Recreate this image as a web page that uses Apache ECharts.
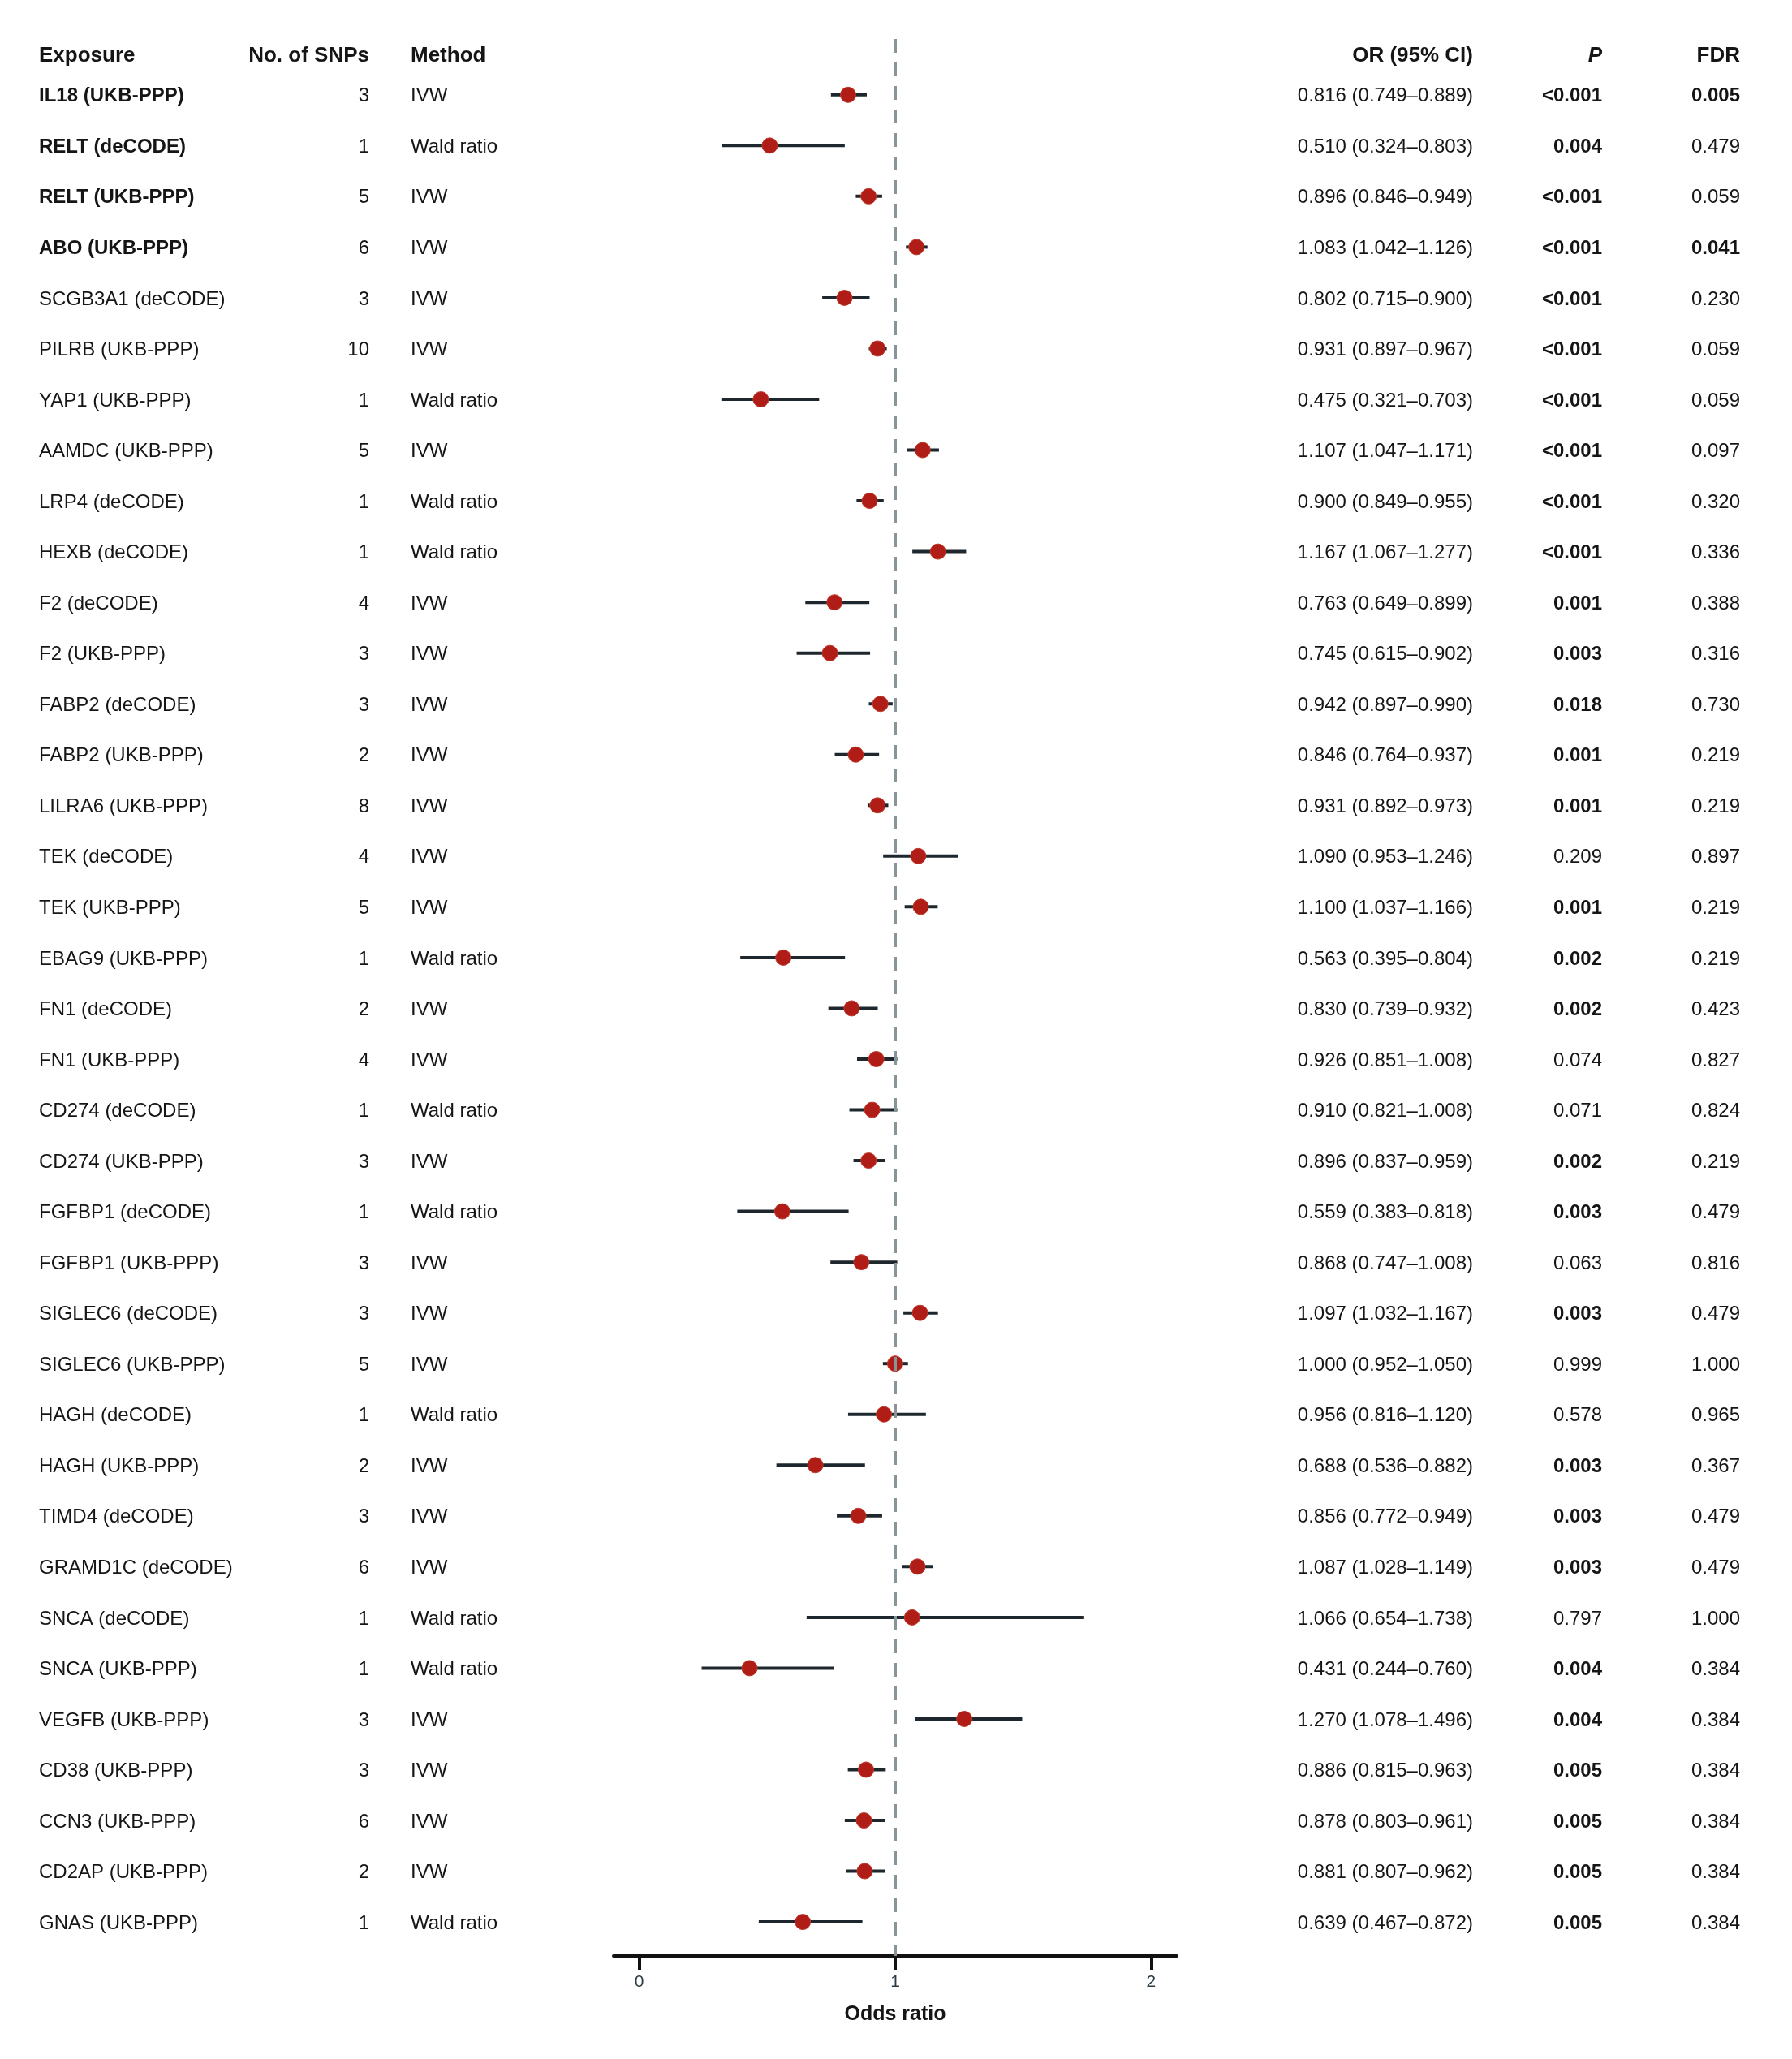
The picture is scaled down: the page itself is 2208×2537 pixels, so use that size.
<!DOCTYPE html>
<html>
<head>
<meta charset="utf-8">
<script src="https://cdn.jsdelivr.net/npm/echarts@6/dist/echarts.min.js"></script>
<style>
  html, body { margin: 0; padding: 0; background: #fff; }
  #chart { width: 2208px; height: 2537px; }
</style>
</head>
<body>
<div id="chart"></div>
<script>
// table data, top row first
const exposures = [
  'IL18 (UKB-PPP)', 'RELT (deCODE)', 'RELT (UKB-PPP)', 'ABO (UKB-PPP)', 'SCGB3A1 (deCODE)',
  'PILRB (UKB-PPP)', 'YAP1 (UKB-PPP)', 'AAMDC (UKB-PPP)', 'LRP4 (deCODE)', 'HEXB (deCODE)',
  'F2 (deCODE)', 'F2 (UKB-PPP)', 'FABP2 (deCODE)', 'FABP2 (UKB-PPP)', 'LILRA6 (UKB-PPP)',
  'TEK (deCODE)', 'TEK (UKB-PPP)', 'EBAG9 (UKB-PPP)', 'FN1 (deCODE)', 'FN1 (UKB-PPP)',
  'CD274 (deCODE)', 'CD274 (UKB-PPP)', 'FGFBP1 (deCODE)', 'FGFBP1 (UKB-PPP)', 'SIGLEC6 (deCODE)',
  'SIGLEC6 (UKB-PPP)', 'HAGH (deCODE)', 'HAGH (UKB-PPP)', 'TIMD4 (deCODE)', 'GRAMD1C (deCODE)',
  'SNCA (deCODE)', 'SNCA (UKB-PPP)', 'VEGFB (UKB-PPP)', 'CD38 (UKB-PPP)', 'CCN3 (UKB-PPP)',
  'CD2AP (UKB-PPP)', 'GNAS (UKB-PPP)'
];
const boldExposures = ['IL18 (UKB-PPP)', 'RELT (deCODE)', 'RELT (UKB-PPP)', 'ABO (UKB-PPP)'];
const nSnps = [3, 1, 5, 6, 3, 10, 1, 5, 1, 1, 4, 3, 3, 2, 8, 4, 5, 1, 2, 4, 1, 3, 1, 3, 3, 5, 1, 2, 3, 6, 1, 1, 3, 3, 6, 2, 1];
const W = 'Wald ratio';
const methods = ['IVW', W, 'IVW', 'IVW', 'IVW', 'IVW', W, 'IVW', W, W,
  'IVW', 'IVW', 'IVW', 'IVW', 'IVW', 'IVW', 'IVW', W, 'IVW', 'IVW',
  W, 'IVW', W, 'IVW', 'IVW', 'IVW', W, 'IVW', 'IVW', 'IVW',
  W, W, 'IVW', 'IVW', 'IVW', 'IVW', W];
const oddsRatio = [0.816, 0.510, 0.896, 1.083, 0.802, 0.931, 0.475, 1.107, 0.900, 1.167,
  0.763, 0.745, 0.942, 0.846, 0.931, 1.090, 1.100, 0.563, 0.830, 0.926,
  0.910, 0.896, 0.559, 0.868, 1.097, 1.000, 0.956, 0.688, 0.856, 1.087,
  1.066, 0.431, 1.270, 0.886, 0.878, 0.881, 0.639];
const ciLow = [0.749, 0.324, 0.846, 1.042, 0.715, 0.897, 0.321, 1.047, 0.849, 1.067,
  0.649, 0.615, 0.897, 0.764, 0.892, 0.953, 1.037, 0.395, 0.739, 0.851,
  0.821, 0.837, 0.383, 0.747, 1.032, 0.952, 0.816, 0.536, 0.772, 1.028,
  0.654, 0.244, 1.078, 0.815, 0.803, 0.807, 0.467];
const ciHigh = [0.889, 0.803, 0.949, 1.126, 0.900, 0.967, 0.703, 1.171, 0.955, 1.277,
  0.899, 0.902, 0.990, 0.937, 0.973, 1.246, 1.166, 0.804, 0.932, 1.008,
  1.008, 0.959, 0.818, 1.008, 1.167, 1.050, 1.120, 0.882, 0.949, 1.149,
  1.738, 0.760, 1.496, 0.963, 0.961, 0.962, 0.872];
const pValues = ['<0.001', '0.004', '<0.001', '<0.001', '<0.001', '<0.001', '<0.001', '<0.001', '<0.001', '<0.001',
  '0.001', '0.003', '0.018', '0.001', '0.001', '0.209', '0.001', '0.002', '0.002', '0.074',
  '0.071', '0.002', '0.003', '0.063', '0.003', '0.999', '0.578', '0.003', '0.003', '0.003',
  '0.797', '0.004', '0.004', '0.005', '0.005', '0.005', '0.005'];
const fdrValues = ['0.005', '0.479', '0.059', '0.041', '0.230', '0.059', '0.059', '0.097', '0.320', '0.336',
  '0.388', '0.316', '0.730', '0.219', '0.219', '0.897', '0.219', '0.219', '0.423', '0.827',
  '0.824', '0.219', '0.479', '0.816', '0.479', '1.000', '0.965', '0.367', '0.479', '0.479',
  '1.000', '0.384', '0.384', '0.384', '0.384', '0.384', '0.384'];
const xTicks = [0, 1, 2];

// layout (pixels)
const FONT = '"Liberation Sans", Arial, Helvetica, sans-serif';
const COL = {exposure: 48, snps: 455, method: 506, or: 1815, p: 1974, fdr: 2144};
const HEADER_ROW = 0.2;
const TEXT_DY = 2;
const TEXT_COLOR = '#151515';

const isSig = v => v.startsWith('<') || parseFloat(v) < 0.05;
const fmt = v => v.toFixed(3);
const rows = exposures.map((e, i) => i + 1);

const chart = echarts.init(document.getElementById('chart'), null, {renderer: 'canvas'});

function txt(x, y, text, align, bold, size, italic) {
    return {
        type: 'text',
        x: x, y: y + TEXT_DY,
        style: {
            text: text,
            font: (italic ? 'italic ' : '') + (bold ? 'bold ' : '') + size + 'px ' + FONT,
            fill: TEXT_COLOR,
            align: align, textAlign: align,
            verticalAlign: 'middle', textVerticalAlign: 'middle'
        }
    };
}

const option = {
    backgroundColor: '#ffffff',
    animation: false,
    grid: {left: 756, right: 758, top: 48, bottom: 127},
    xAxis: {
        type: 'value',
        position: 'bottom',
        min: -0.1,
        max: 2.1,
        splitLine: {show: false},
        axisLine: {show: true, onZero: false, lineStyle: {color: '#111', width: 4}},
        axisTick: {show: true, inside: false, customValues: xTicks, length: 17, lineStyle: {color: '#111', width: 4}},
        axisLabel: {
            customValues: xTicks, fontSize: 21, color: '#2c3a44', fontFamily: FONT, margin: 22
        },
        name: 'Odds ratio',
        nameLocation: 'middle',
        nameGap: 60,
        nameTextStyle: {fontSize: 25, fontWeight: 'bold', color: TEXT_COLOR, fontFamily: FONT}
    },
    yAxis: {
        type: 'value',
        inverse: true,
        min: -0.1,
        max: 37.67,
        show: false
    },
    series: [
        {
            // confidence intervals
            type: 'custom',
            clip: false,
            data: rows.map((r, i) => [ciLow[i], ciHigh[i], r]),
            renderItem: (params, api) => {
                const a = api.coord([api.value(0), api.value(2)]);
                const b = api.coord([api.value(1), api.value(2)]);
                return {
                    type: 'line',
                    shape: {x1: a[0], y1: a[1], x2: b[0], y2: b[1]},
                    style: {stroke: '#1d272d', lineWidth: 4}
                };
            },
            z: 2
        },
        {
            type: 'scatter',
            data: rows.map((r, i) => [oddsRatio[i], r]),
            symbol: 'circle',
            symbolSize: 19,
            itemStyle: {color: '#B01C16', borderColor: '#c0392b', borderWidth: 1, opacity: 1},
            z: 3,
            markLine: {
                silent: true,
                symbol: ['none', 'none'],
                label: {show: false},
                lineStyle: {color: '#879599', width: 3, type: [17, 12]},
                data: [{xAxis: 1}]
            }
        },
        {
            // table text
            type: 'custom',
            clip: false,
            data: [HEADER_ROW].concat(rows).map(r => [1, r]),
            renderItem: (params, api) => {
                const y = api.coord([1, api.value(1)])[1];
                const i = params.dataIndex - 1;
                if (i < 0) {
                    return {
                        type: 'group',
                        children: [
                            txt(COL.exposure, y, 'Exposure', 'left', true, 26),
                            txt(COL.snps, y, 'No. of SNPs', 'right', true, 26),
                            txt(COL.method, y, 'Method', 'left', true, 26),
                            txt(COL.or, y, 'OR (95% CI)', 'right', true, 26),
                            txt(COL.p, y, 'P', 'right', true, 26, true),
                            txt(COL.fdr, y, 'FDR', 'right', true, 26)
                        ]
                    };
                }
                return {
                    type: 'group',
                    children: [
                        txt(COL.exposure, y, exposures[i], 'left', boldExposures.includes(exposures[i]), 24),
                        txt(COL.snps, y, String(nSnps[i]), 'right', false, 24),
                        txt(COL.method, y, methods[i], 'left', false, 24),
                        txt(COL.or, y, fmt(oddsRatio[i]) + ' (' + fmt(ciLow[i]) + '\u2013' + fmt(ciHigh[i]) + ')', 'right', false, 24),
                        txt(COL.p, y, pValues[i], 'right', isSig(pValues[i]), 24),
                        txt(COL.fdr, y, fdrValues[i], 'right', isSig(fdrValues[i]), 24)
                    ]
                };
            },
            z: 4
        }
    ]
};

chart.setOption(option);
</script>
</body>
</html>
